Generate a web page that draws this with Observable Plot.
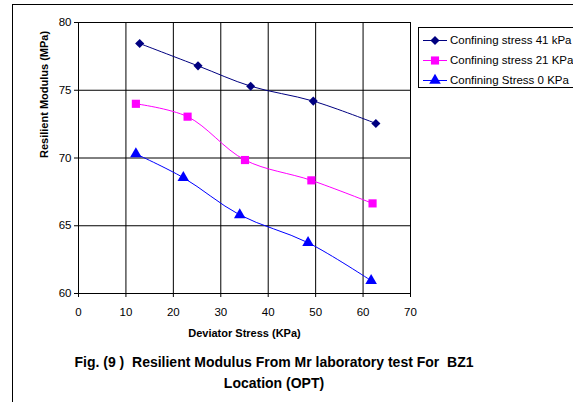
<!DOCTYPE html>
<html>
<head>
<meta charset="utf-8">
<script src="https://cdn.jsdelivr.net/npm/d3@7"></script>
<script src="https://cdn.jsdelivr.net/npm/@observablehq/plot@0.6"></script>
<style>
  html, body { margin: 0; padding: 0; background: #fff; }
  body { font-family: "Liberation Sans", Arial, sans-serif; }
  #wrap { position: relative; width: 573px; height: 402px; overflow: hidden; background: #fff; }
  #frameLines { position: absolute; left: 12px; top: 4px; right: -5px; bottom: -5px; border-top: 1px solid #000; border-left: 1px solid #000; }
  #chart { position: absolute; left: 0; top: 0; }
  #legend { position: absolute; left: 418px; top: 27px; width: 170px; height: 59px; border: 1px solid #000; background: #fff; font-size: 11.5px; color: #000; }
  .item { position: absolute; left: 0; height: 20px; line-height: 20px; white-space: nowrap; }
  .item svg { position: absolute; left: 4px; top: 0; }
  .item span { position: absolute; left: 31px; top: 0; }
  #caption { position: absolute; left: 0; width: 548px; top: 352px; text-align: center; font-weight: bold; font-size: 14px; line-height: 21px; color: #000; white-space: pre; }
</style>
</head>
<body>
<div id="wrap">
  <div id="frameLines"></div>
  <div id="chart"></div>
  <div id="legend"></div>
  <div id="caption"></div>
</div>
<script>
// ---- data ----
const seriesNames = ["Confining stress 41 kPa", "Confining stress 21 KPa", "Confining Stress 0 KPa"];
const seriesColors = ["#000080", "#FF00FF", "#0000FF"];
const seriesSymbols = ["diamond2", "square", "triangle"];

const devStress41 = [12.9, 25.2, 36.3, 49.5, 62.7];
const modulus41   = [78.45, 76.8, 75.3, 74.2, 72.55];

const devStress21 = [12.1, 23.0, 35.1, 49.1, 62.0];
const modulus21   = [74.0, 73.05, 69.85, 68.35, 66.65];

const devStress0  = [12.1, 22.1, 34.0, 48.4, 61.7];
const modulus0    = [70.3, 68.55, 65.8, 63.75, 60.95];

const xTicks = [0, 10, 20, 30, 40, 50, 60, 70];
const yTicks = [60, 65, 70, 75, 80];

const xTitle = "Deviator Stress (KPa)";
const yTitle = "Resilient Modulus (MPa)";
const captionLines = ["Fig. (9 )  Resilient Modulus From Mr laboratory test For  BZ1", "Location (OPT)"];

// ---- build table ----
const xs = [devStress41, devStress21, devStress0];
const ys = [modulus41, modulus21, modulus0];
const rows = [];
seriesNames.forEach((s, i) => xs[i].forEach((x, j) => rows.push({series: s, x, y: ys[i][j]})));

const marks = [
  Plot.gridX(xTicks.slice(1, -1), {stroke: "#000", strokeOpacity: 1}),
  Plot.gridY(yTicks.slice(1, -1), {stroke: "#000", strokeOpacity: 1}),
  Plot.frame({stroke: "#000"}),
  Plot.axisX(xTicks, {tickSize: 4, tickPadding: 10, fontSize: 11.5, label: null, fill: "#000"}),
  Plot.axisY(yTicks, {tickSize: 4, tickPadding: 3, fontSize: 11.5, label: null, fill: "#000"}),
  Plot.text([xTitle], {frameAnchor: "bottom", dy: 43, fontSize: 11, fontWeight: "bold", fill: "#000"}),
  Plot.text([yTitle], {frameAnchor: "left", dx: -34, rotate: -90, fontSize: 11, fontWeight: "bold", fill: "#000"})
];
seriesNames.forEach((s, i) => {
  const d = rows.filter(r => r.series === s);
  marks.push(Plot.line(d, {x: "x", y: "y", stroke: seriesColors[i], strokeWidth: 1, curve: "catmull-rom"}));
});
seriesNames.forEach((s, i) => {
  const d = rows.filter(r => r.series === s);
  const r = i === 0 ? 4.1 : i === 1 ? 4.6 : 4.3;
  marks.push(Plot.dot(d, {x: "x", y: "y", symbol: () => seriesSymbols[i], fill: seriesColors[i], stroke: "none", r}));
});

const chart = Plot.plot({
  width: 573,
  height: 402,
  marginLeft: 78,
  marginRight: 163,
  marginTop: 22,
  marginBottom: 109,
  style: {fontFamily: "'Liberation Sans', Arial, sans-serif", background: "transparent", color: "#000"},
  x: {domain: [0, 70], type: "linear"},
  y: {domain: [60, 80], type: "linear"},
  marks
});
document.getElementById("chart").appendChild(chart);

// ---- legend ----
const legend = document.getElementById("legend");
const symMap = {diamond2: d3.symbolDiamond2, square: d3.symbolSquare, triangle: d3.symbolTriangle};
const symSize = [53, 66, 58];
seriesNames.forEach((s, i) => {
  const item = document.createElement("div");
  item.className = "item";
  item.style.top = (2 + i * 20) + "px";
  const svg = d3.create("svg").attr("width", 26).attr("height", 20);
  svg.append("line").attr("x1", 0).attr("x2", 24).attr("y1", 10.5).attr("y2", 10.5)
    .attr("stroke", seriesColors[i]).attr("stroke-width", 1);
  svg.append("path").attr("transform", "translate(12,10.5)")
    .attr("d", d3.symbol(symMap[seriesSymbols[i]], symSize[i])()).attr("fill", seriesColors[i]);
  item.appendChild(svg.node());
  const span = document.createElement("span");
  span.textContent = s;
  item.appendChild(span);
  legend.appendChild(item);
});

// ---- caption ----
const cap = document.getElementById("caption");
captionLines.forEach(t => { const d = document.createElement("div"); d.textContent = t; cap.appendChild(d); });
</script>
</body>
</html>
